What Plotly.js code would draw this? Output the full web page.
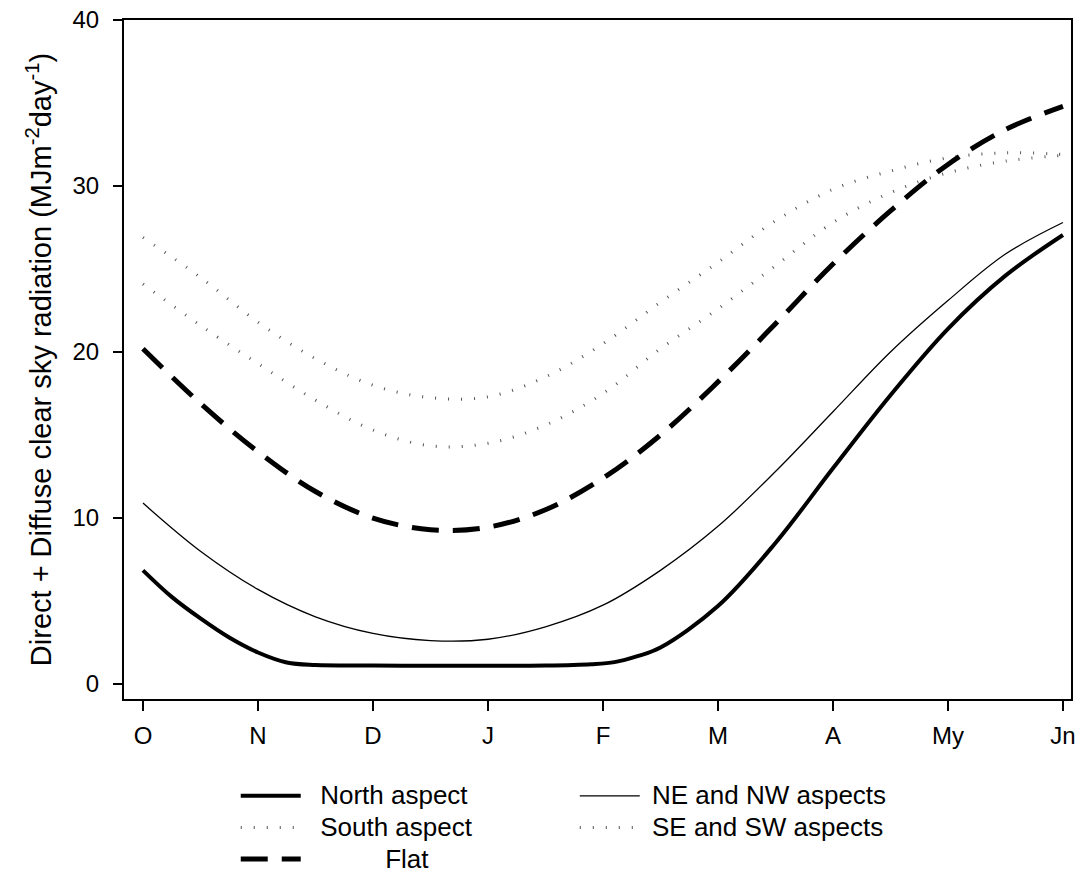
<!DOCTYPE html>
<html>
<head>
<meta charset="utf-8">
<script src="https://cdn.plot.ly/plotly-3.0.1.min.js"></script>
<style>html,body{margin:0;padding:0;background:#fff;}#chart{width:1076px;height:876px;}</style>
</head>
<body>
<div id="chart"></div>
<script>
// Month positions (0 = October ... 8 = June)
const monthTicks = [0, 1, 2, 3, 4, 5, 6, 7, 8];
const monthLabels = ['O', 'N', 'D', 'J', 'F', 'M', 'A', 'My', 'Jn'];
const yTicks = [0, 10, 20, 30, 40];

const xHalf = [0, 0.5, 1, 1.5, 2, 2.5, 3, 3.5, 4, 4.5, 5, 5.5, 6, 6.5, 7, 7.5, 8];

const xNorth = [0, 0.25, 0.5, 0.75, 1, 1.25, 1.5, 2, 2.5, 3, 3.5, 3.9, 4.1, 4.3, 4.5, 5, 5.5, 6, 6.5, 7, 7.5, 8];
const northAspect = [6.85, 5.25, 3.95, 2.8, 1.9, 1.3, 1.15, 1.12, 1.1, 1.1, 1.12, 1.2, 1.32, 1.68, 2.2, 4.7, 8.5, 13.0, 17.4, 21.4, 24.6, 27.05];

const neNwAspects = [10.9, 8.0, 5.7, 4.05, 3.05, 2.62, 2.7, 3.45, 4.75, 6.85, 9.5, 12.8, 16.4, 20.0, 23.1, 25.9, 27.8];
const flat = [20.2, 16.9, 14.0, 11.6, 10.0, 9.3, 9.45, 10.5, 12.4, 15.0, 18.2, 21.7, 25.3, 28.5, 31.3, 33.4, 34.8];
const southAspect = [26.9, 24.5, 21.8, 19.6, 18.0, 17.25, 17.3, 18.5, 20.5, 23.0, 25.4, 27.9, 29.8, 30.9, 31.7, 32.0, 31.9];
const seSwAspects = [24.1, 21.6, 19.3, 17.1, 15.3, 14.35, 14.5, 15.6, 17.5, 20.2, 22.6, 25.2, 27.8, 29.6, 30.8, 31.5, 31.85];

const FONT = 'Liberation Sans, Arial, Helvetica, sans-serif';
const NB = '&nbsp;';
const big = (s) => '<span style="font-size:26px">' + s + '</span>';

const traces = [
  {x: xNorth, y: northAspect, name: big(NB.repeat(2) + 'North aspect'), legend: 'legend',
   mode: 'lines', line: {color: '#000', width: 4, shape: 'spline'}},
  {x: xHalf, y: southAspect, name: big(NB.repeat(2) + 'South aspect'), legend: 'legend',
   mode: 'lines', line: {color: '#555', width: 3, dash: '1px,12px', shape: 'spline'}},
  {x: xHalf, y: flat, name: big(NB.repeat(11) + 'Flat'), legend: 'legend',
   mode: 'lines', line: {color: '#000', width: 5, dash: '27px,14px', shape: 'spline'}},
  {x: xHalf, y: neNwAspects, name: big(NB + 'NE and NW aspects'), legend: 'legend2',
   mode: 'lines', line: {color: '#000', width: 1.3, shape: 'spline'}},
  {x: xHalf, y: seSwAspects, name: big(NB + 'SE and SW aspects'), legend: 'legend2',
   mode: 'lines', line: {color: '#555', width: 3, dash: '1px,12px', shape: 'spline'}}
];

const layout = {
  width: 1076, height: 876,
  margin: {l: 124, r: 5, t: 20, b: 177, autoexpand: false},
  paper_bgcolor: '#fff', plot_bgcolor: '#fff',
  font: {family: FONT, color: '#000', size: 24},
  showlegend: true,
  xaxis: {
    range: [-0.165, 8.07],
    tickvals: monthTicks, ticktext: monthLabels,
    ticks: 'outside', ticklen: 10, tickwidth: 2, tickcolor: '#000',
    ticklabelstandoff: 4,
    showline: true, linewidth: 2, linecolor: '#000', mirror: true,
    showgrid: false, zeroline: false, automargin: false,
    tickfont: {family: FONT, size: 24, color: '#000'}
  },
  yaxis: {
    range: [-0.9, 40],
    tickvals: yTicks,
    ticks: 'outside', ticklen: 9, tickwidth: 2, tickcolor: '#000',
    ticklabelstandoff: 9,
    showline: true, linewidth: 2, linecolor: '#000', mirror: true,
    showgrid: false, zeroline: false, automargin: false,
    tickfont: {family: FONT, size: 24, color: '#000'},
    title: {text: 'Direct + Diffuse clear sky radiation (MJm<sup>-2</sup>day<sup>-1</sup>)',
            font: {family: FONT, size: 29, color: '#000'}, standoff: 12}
  },
  legend: {
    x: 0.118, y: -0.112, xanchor: 'left', yanchor: 'top',
    orientation: 'v', bgcolor: 'rgba(0,0,0,0)', borderwidth: 0,
    itemwidth: 60, tracegroupgap: 0,
    font: {family: FONT, size: 22, color: '#000'}
  },
  legend2: {
    x: 0.476, y: -0.112, xanchor: 'left', yanchor: 'top',
    orientation: 'v', bgcolor: 'rgba(0,0,0,0)', borderwidth: 0,
    itemwidth: 60, tracegroupgap: 0,
    font: {family: FONT, size: 22, color: '#000'}
  }
};

Plotly.newPlot('chart', traces, layout, {displayModeBar: false, staticPlot: true});
</script>
</body>
</html>
